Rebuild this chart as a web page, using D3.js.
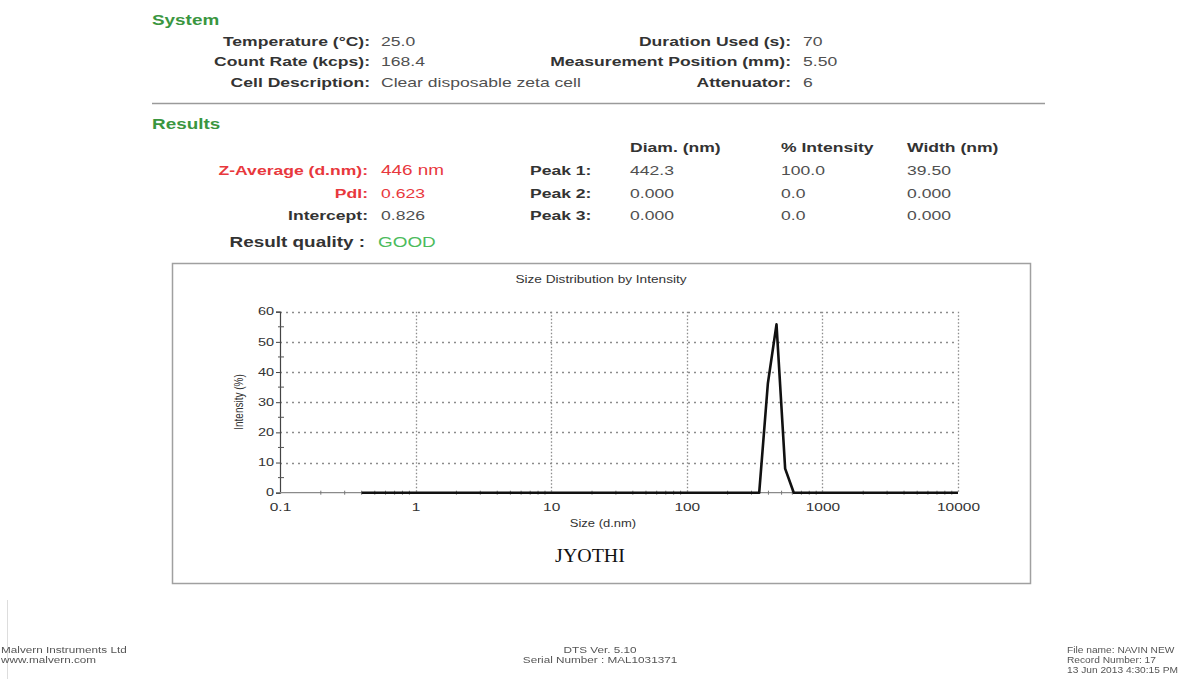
<!DOCTYPE html>
<html>
<head>
<meta charset="utf-8">
<script src="https://cdn.jsdelivr.net/npm/d3@7"></script>
<style>
  html, body { margin: 0; padding: 0; background: #fff; }
  svg { display: block; font-family: "Liberation Sans", Arial, sans-serif; }
</style>
</head>
<body>
<svg id="page" width="1192" height="679"></svg>
<script>
// Malvern size classes (d.nm) and intensity distribution (%)
const sizeClasses = [0.4, 0.4632, 0.5365, 0.6213, 0.7195, 0.8332, 0.965, 1.117, 1.294, 1.499,
  1.736, 2.01, 2.328, 2.696, 3.122, 3.615, 4.187, 4.849, 5.615, 6.503,
  7.531, 8.721, 10.1, 11.7, 13.54, 15.69, 18.17, 21.04, 24.36, 28.21,
  32.67, 37.84, 43.82, 50.75, 58.77, 68.06, 78.82, 91.28, 105.7, 122.4,
  141.8, 164.2, 190.1, 220.2, 255.0, 295.3, 342.0, 396.1, 458.7, 531.2,
  615.1, 712.4, 825.0, 955.4, 1106, 1281, 1484, 1718, 1990, 2305,
  2669, 3091, 3580, 4145, 4801, 5560, 6439, 7456, 8635, 10000];
const intensity = [0, 0, 0, 0, 0, 0, 0, 0, 0, 0,
  0, 0, 0, 0, 0, 0, 0, 0, 0, 0,
  0, 0, 0, 0, 0, 0, 0, 0, 0, 0,
  0, 0, 0, 0, 0, 0, 0, 0, 0, 0,
  0, 0, 0, 0, 0, 0, 0, 36.2, 55.8, 8.0,
  0, 0, 0, 0, 0, 0, 0, 0, 0, 0,
  0, 0, 0, 0, 0, 0, 0, 0, 0, 0];

const xTickValues = [0.1, 1, 10, 100, 1000, 10000];
const xTickLabels = ["0.1", "1", "10", "100", "1000", "10000"];
const yTickValues = [0, 10, 20, 30, 40, 50, 60];
const yMinorValues = [5, 15, 25, 35, 45, 55];

// Report fields
const systemLeft = [["Temperature (\u00B0C):", "25.0"], ["Count Rate (kcps):", "168.4"], ["Cell Description:", "Clear disposable zeta cell"]];
const systemRight = [["Duration Used (s):", "70"], ["Measurement Position (mm):", "5.50"], ["Attenuator:", "6"]];
const resultLeft = [["Z-Average (d.nm):", "446 nm", true], ["PdI:", "0.623", true], ["Intercept:", "0.826", false]];
const peakHeaders = ["Diam. (nm)", "% Intensity", "Width (nm)"];
const peakRows = [["Peak 1:", "442.3", "100.0", "39.50"], ["Peak 2:", "0.000", "0.0", "0.000"], ["Peak 3:", "0.000", "0.0", "0.000"]];
const footerLeft = ["Malvern Instruments Ltd", "www.malvern.com"];
const footerMid = ["DTS Ver. 5.10", "Serial Number : MAL1031371"];
const footerRight = ["File name: NAVIN NEW", "Record Number: 17", "13 Jun 2013 4:30:15 PM"];

const svg = d3.select("#page");
const SX = 1.35; // horizontal stretch of report lettering

function txt(g, x, y, s, opts = {}) {
  const t = g.append("text")
    .attr("transform", `translate(${x},${y}) scale(${opts.sx || SX},1)`)
    .attr("font-size", opts.size || 13)
    .attr("font-weight", opts.bold ? "bold" : "normal")
    .attr("fill", opts.fill || "#333")
    .attr("text-anchor", opts.anchor || "start")
    .text(s);
  if (opts.family) t.attr("font-family", opts.family);
  return t;
}

const defs = svg.append("defs");
defs.append("filter").attr("id", "soft").append("feGaussianBlur").attr("stdDeviation", 0.55);

// faint page edge on the left
svg.append("line").attr("x1", 7.5).attr("x2", 7.5).attr("y1", 600).attr("y2", 679)
  .attr("stroke", "#ddd").attr("stroke-width", 1);

const green = "#3a963f", red = "#e8383d", valGray = "#505050";

// ---- System section
const hdr = svg.append("g");
txt(hdr, 152, 25, "System", { bold: true, size: 14, fill: green });
systemLeft.forEach((d, i) => {
  const y = [46, 66, 87][i];
  txt(hdr, 370, y, d[0], { bold: true, anchor: "end" });
  txt(hdr, 381, y, d[1], { fill: valGray });
});
systemRight.forEach((d, i) => {
  const y = [46, 66, 87][i];
  txt(hdr, 791, y, d[0], { bold: true, anchor: "end" });
  txt(hdr, 803, y, d[1], { fill: valGray });
});
hdr.append("line").attr("x1", 152).attr("x2", 1045).attr("y1", 103.5).attr("y2", 103.5)
  .attr("stroke", "#9a9a9a").attr("stroke-width", 1.5);

// ---- Results section
txt(hdr, 152, 129, "Results", { bold: true, size: 14, fill: green });
const colX = [630, 781, 907];
peakHeaders.forEach((h, i) => txt(hdr, colX[i], 152, h, { bold: true }));
resultLeft.forEach((d, i) => {
  const y = [175, 198, 220][i];
  txt(hdr, 368, y, d[0], { bold: true, anchor: "end", fill: d[2] ? red : "#333" });
  txt(hdr, 381, y, d[1], { fill: d[2] ? red : valGray, size: d[2] && i === 0 ? 14 : 13 });
});
peakRows.forEach((r, i) => {
  const y = [175, 198, 220][i];
  txt(hdr, 530, y, r[0], { bold: true });
  r.slice(1).forEach((v, j) => txt(hdr, colX[j], y, v, { fill: valGray }));
});
txt(hdr, 365, 247, "Result quality :", { bold: true, size: 14, anchor: "end" });
txt(hdr, 378, 247, "GOOD", { fill: "#4cbb5c", size: 14 });

// ---- Chart panel
svg.append("rect").attr("x", 172.5).attr("y", 263.5).attr("width", 858).attr("height", 320)
  .attr("fill", "#fff").attr("stroke", "#a0a0a0").attr("stroke-width", 1.5);

const plot = { left: 280, right: 958, top: 311.7, bottom: 492.7 };
const x = d3.scaleLog().domain([0.1, 10000]).range([plot.left, plot.right]);
const y = d3.scaleLinear().domain([0, 60]).range([plot.bottom, plot.top]);

const chart = svg.append("g");
txt(chart, 601, 283, "Size Distribution by Intensity", { size: 10.5, anchor: "middle", fill: "#333", sx: 1.3 });

// grid
chart.append("g").selectAll("line").data(yTickValues.filter(v => v > 0)).join("line")
  .attr("x1", plot.left).attr("x2", plot.right)
  .attr("y1", d => Math.round(y(d)) + 0.5).attr("y2", d => Math.round(y(d)) + 0.5)
  .attr("stroke", "#8c8c8c").attr("stroke-width", 1.3).attr("stroke-dasharray", "2,4");
chart.append("g").selectAll("line").data(xTickValues.filter(v => v > 0.1)).join("line")
  .attr("x1", d => Math.round(x(d)) + 0.5).attr("x2", d => Math.round(x(d)) + 0.5)
  .attr("y1", plot.top).attr("y2", plot.bottom)
  .attr("stroke", "#8c8c8c").attr("stroke-width", 1.3).attr("stroke-dasharray", "1.5,2");

// axes
const yAxis = d3.axisLeft(y).tickValues(yTickValues).tickSize(4).tickPadding(2);
const yg = chart.append("g").attr("transform", `translate(${plot.left},0)`).call(yAxis);
yg.select(".domain").attr("stroke", "#444").attr("stroke-width", 1.2);
yg.selectAll(".tick line").attr("stroke", "#444");
yg.selectAll(".tick text").attr("font-size", 10).attr("fill", "#333")
  .attr("font-family", "Liberation Sans, Arial, sans-serif")
  .attr("transform", `scale(${1.45},1)`).attr("x", -6 / 1.45);

chart.append("g").selectAll("line").data(yMinorValues).join("line")
  .attr("x1", plot.left - 2).attr("x2", plot.left + 4)
  .attr("y1", d => y(d)).attr("y2", d => y(d)).attr("stroke", "#555");

const minorX = [];
xTickValues.slice(0, -1).forEach(dec => { for (let k = 2; k <= 9; k++) minorX.push(dec * k); });
chart.append("line").attr("x1", plot.left).attr("x2", plot.right)
  .attr("y1", y(0)).attr("y2", y(0)).attr("stroke", "#8a8a8a").attr("stroke-width", 1.2);
chart.append("g").selectAll("line").data(minorX).join("line")
  .attr("x1", d => x(d)).attr("x2", d => x(d)).attr("y1", y(0) - 2).attr("y2", y(0) + 2)
  .attr("stroke", "#777").attr("stroke-width", 1);

const xg = chart.append("g").attr("transform", `translate(0,${plot.bottom})`)
  .call(d3.axisBottom(x).tickValues(xTickValues).tickFormat((d, i) => xTickLabels[i]).tickSize(0).tickPadding(11));
xg.select(".domain").remove();
xg.selectAll(".tick text").attr("font-size", 10).attr("fill", "#333")
  .attr("font-family", "Liberation Sans, Arial, sans-serif")
  .attr("transform", "scale(1.55,1)");

// axis titles
txt(chart, 603, 527, "Size (d.nm)", { size: 10, anchor: "middle", sx: 1.3 });
chart.append("text")
  .attr("transform", `translate(243,402) rotate(-90) scale(1,1.3)`)
  .attr("text-anchor", "middle").attr("font-size", 10).attr("fill", "#333")
  .text("Intensity (%)");

// distribution line
const pts = sizeClasses.map((s, i) => [s, intensity[i]]);
chart.append("path").datum(pts)
  .attr("fill", "none").attr("stroke", "#111").attr("stroke-width", 2.6)
  .attr("stroke-linejoin", "round")
  .attr("d", d3.line().x(d => x(d[0])).y(d => y(d[1])));

// sample name
txt(chart, 590, 562, "JYOTHI", { size: 19, anchor: "middle", family: "Liberation Serif, Times New Roman, serif", fill: "#111", sx: 1.05 });

// ---- footer
const ft = svg.append("g").attr("filter", "url(#soft)");
footerLeft.forEach((s, i) => txt(ft, 1, 653 + i * 10, s, { size: 8.5, fill: "#555", sx: 1.38 }));
footerMid.forEach((s, i) => txt(ft, 600, 653 + i * 10, s, { size: 8.5, fill: "#555", anchor: "middle", sx: 1.38 }));
footerRight.forEach((s, i) => txt(ft, 1067, 653 + i * 10, s, { size: 8.5, fill: "#555", sx: 1.2 }));
</script>
</body>
</html>
